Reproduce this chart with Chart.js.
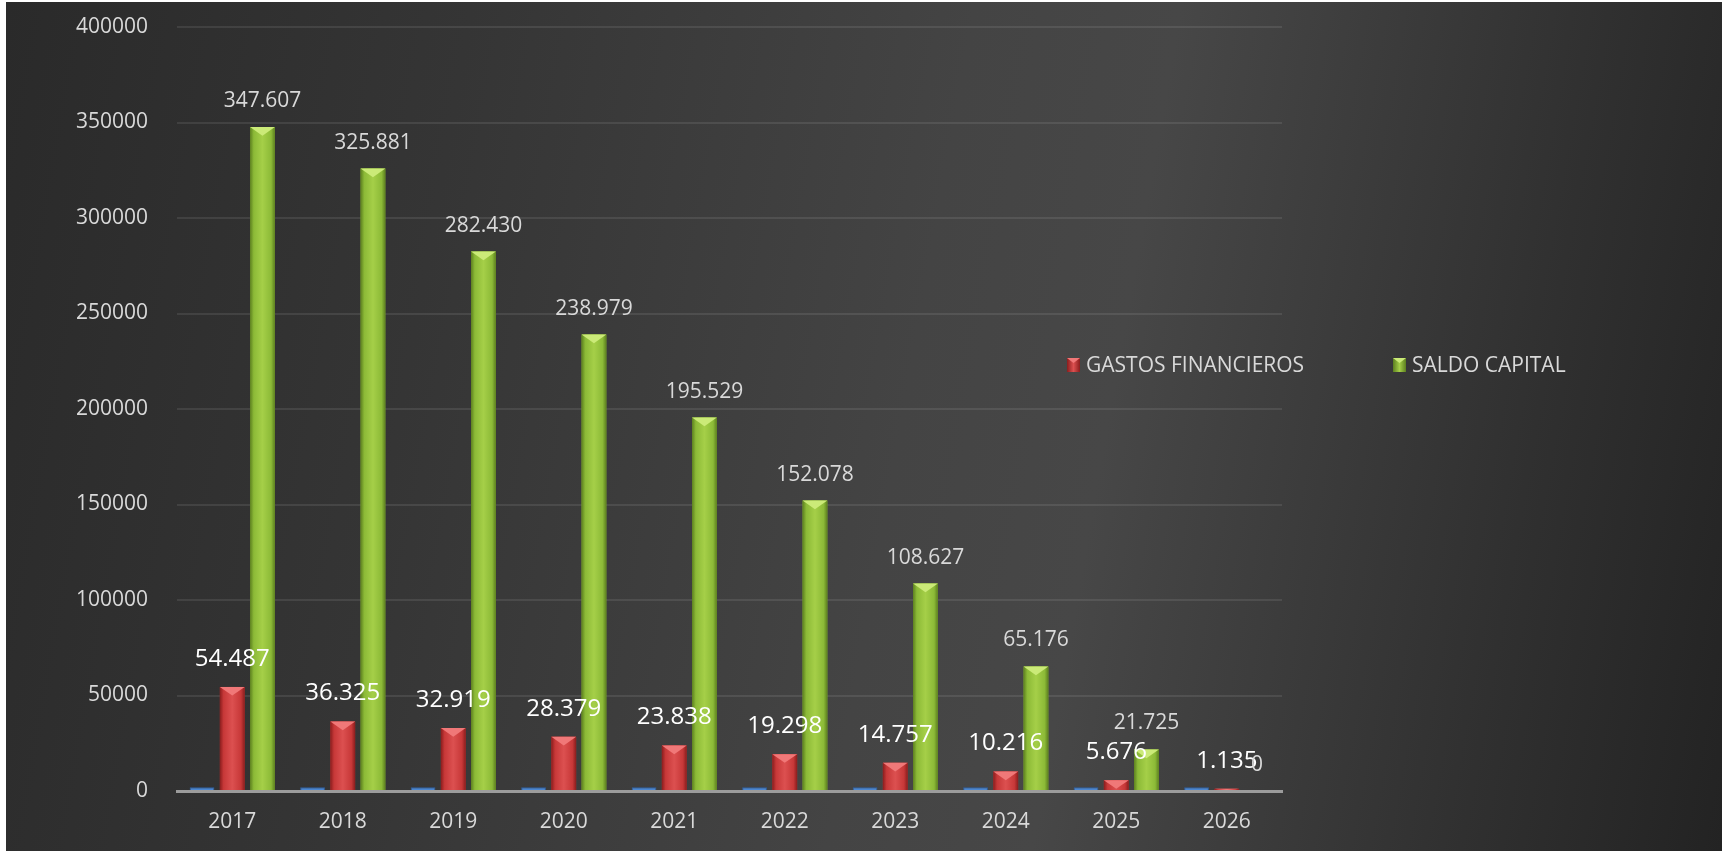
<!DOCTYPE html>
<html>
<head>
<meta charset="utf-8">
<script src="https://cdn.jsdelivr.net/npm/chart.js@4.4.0/dist/chart.umd.min.js"></script>
<style>
  html, body { margin: 0; padding: 0; background: #fff; }
  #wrap {
    position: absolute; left: 6px; top: 2px; width: 1716px; height: 849px;
    background: linear-gradient(100deg, #2a2a2a 0%, #353535 25%, #444444 52%, #474747 63%, #303030 86%, #232323 100%);
  }
</style>
</head>
<body>
<div id="wrap"><canvas id="chart"></canvas></div>
<script>
const years = ['2017', '2018', '2019', '2020', '2021', '2022', '2023', '2024', '2025', '2026'];
const yearValues = [2017, 2018, 2019, 2020, 2021, 2022, 2023, 2024, 2025, 2026];
const gastosFinancieros = [54487, 36325, 32919, 28379, 23838, 19298, 14757, 10216, 5676, 1135];
const saldoCapital = [347607, 325881, 282430, 238979, 195529, 152078, 108627, 65176, 21725, 0];
const yMax = 400000;
const yStep = 50000;

const FONT = "'Open Sans', 'DejaVu Sans', sans-serif";

// 1.234 style thousands separator
function fmt(v) {
  return String(v).replace(/\B(?=(\d{3})+(?!\d))/g, '.');
}

const barStyles = {
  1: { edge: '#8a1d1d', mid: '#c73838', light: '#dc5050', top: '#f07878' },
  2: { edge: '#5c7f1f', mid: '#8cba37', light: '#a5cf48', top: '#cbea78' }
};

// gives the bars the bevelled excel look
const bevelPlugin = {
  id: 'bevel',
  afterDatasetDraw(chart, args) {
    const st = barStyles[args.index];
    if (!st) return;
    const ctx = chart.ctx;
    args.meta.data.forEach(bar => {
      const { x, y, width, base } = bar.getProps(['x', 'y', 'width', 'base'], true);
      const h = base - y;
      if (h <= 0.5) return;
      const l = x - width / 2, r = x + width / 2;
      const g = ctx.createLinearGradient(l, 0, r, 0);
      g.addColorStop(0, st.edge);
      g.addColorStop(0.15, st.mid);
      g.addColorStop(0.5, st.light);
      g.addColorStop(0.85, st.mid);
      g.addColorStop(1, st.edge);
      ctx.save();
      ctx.fillStyle = g;
      ctx.fillRect(l, y, width, h);
      const th = Math.min(width * 0.35, h);
      ctx.fillStyle = st.top;
      ctx.beginPath();
      ctx.moveTo(l, y);
      ctx.lineTo(r, y);
      ctx.lineTo(x, y + th);
      ctx.closePath();
      ctx.fill();
      ctx.restore();
    });
  }
};

const labelPlugin = {
  id: 'valueLabels',
  afterDatasetsDraw(chart) {
    const ctx = chart.ctx;
    const looks = {
      1: { font: '24px ' + FONT, color: '#ffffff', off: 28 },
      2: { font: '21px ' + FONT, color: '#d9d9d9', off: 26 }
    };
    ctx.save();
    ctx.textAlign = 'center';
    ctx.textBaseline = 'middle';
    [1, 2].forEach(di => {
      const meta = chart.getDatasetMeta(di);
      const data = chart.data.datasets[di].data;
      meta.data.forEach((bar, i) => {
        ctx.font = looks[di].font;
        ctx.fillStyle = looks[di].color;
        ctx.fillText(fmt(data[i]), bar.x, bar.y - looks[di].off);
      });
    });
    ctx.restore();
  }
};

const legendPlugin = {
  id: 'sideLegend',
  afterDraw(chart) {
    const ctx = chart.ctx;
    const a = chart.chartArea;
    const items = [
      { ds: 1, dx: -215 },
      { ds: 2, dx: 111 }
    ];
    const cy = a.top + 338;
    ctx.save();
    ctx.font = '21px ' + FONT;
    ctx.textBaseline = 'middle';
    ctx.textAlign = 'left';
    items.forEach(it => {
      const st = barStyles[it.ds];
      const bx = a.right + it.dx;
      const g = ctx.createLinearGradient(bx, 0, bx + 13, 0);
      g.addColorStop(0, st.edge);
      g.addColorStop(0.5, st.light);
      g.addColorStop(1, st.edge);
      ctx.fillStyle = g;
      ctx.fillRect(bx, cy - 7, 13, 14);
      ctx.fillStyle = st.top;
      ctx.beginPath();
      ctx.moveTo(bx, cy - 7);
      ctx.lineTo(bx + 13, cy - 7);
      ctx.lineTo(bx + 6.5, cy - 2);
      ctx.closePath();
      ctx.fill();
      ctx.fillStyle = '#d9d9d9';
      ctx.fillText(chart.data.datasets[it.ds].label, bx + 19, cy + 1);
    });
    ctx.restore();
  }
};

new Chart(document.getElementById('chart'), {
  type: 'bar',
  data: {
    labels: years,
    datasets: [
      { label: 'AÑO', data: yearValues, backgroundColor: '#4a86d2', borderColor: '#2f5f9e', borderWidth: 1 },
      { label: 'GASTOS FINANCIEROS', data: gastosFinancieros, backgroundColor: '#c73838' },
      { label: 'SALDO CAPITAL', data: saldoCapital, backgroundColor: '#8cba37' }
    ]
  },
  options: {
    responsive: true,
    maintainAspectRatio: false,
    animation: false,
    datasets: { bar: { categoryPercentage: 0.82, barPercentage: 0.82 } },
    layout: { padding: { left: 0, right: 440, top: 25, bottom: 0 } },
    plugins: {
      legend: { display: false },
      tooltip: { enabled: false }
    },
    scales: {
      x: {
        grid: { display: false, drawTicks: false },
        border: { display: true, color: '#9c9c9c', width: 3 },
        ticks: { color: '#d9d9d9', font: { family: FONT, size: 21 }, padding: 18 },
        afterFit(scale) { scale.height = 60; }
      },
      y: {
        min: 0,
        max: yMax,
        grid: {
          color: 'rgba(255,255,255,0.09)',
          lineWidth: 2,
          drawTicks: true,
          tickLength: 29,
          tickColor: 'transparent'
        },
        border: { display: false },
        ticks: {
          stepSize: yStep,
          color: '#d9d9d9',
          font: { family: FONT, size: 21 },
          padding: 0,
          callback: v => String(v)
        },
        afterFit(scale) { scale.width = 171; }
      }
    }
  },
  plugins: [bevelPlugin, labelPlugin, legendPlugin]
});
</script>
</body>
</html>
